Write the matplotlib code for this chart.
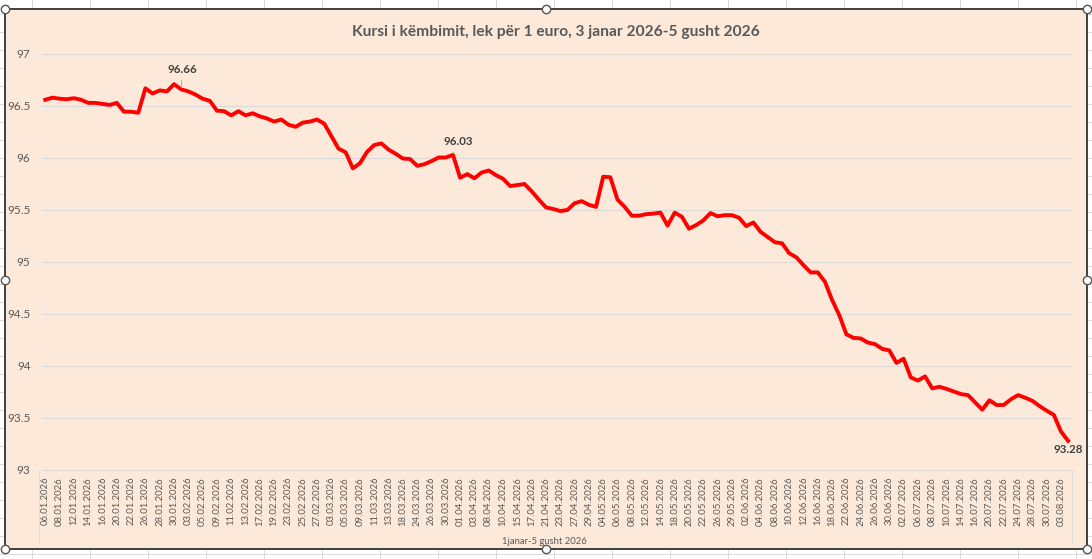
import numpy as np
import matplotlib
matplotlib.use("Agg")
import matplotlib.pyplot as plt
from matplotlib.patches import Rectangle
from matplotlib.lines import Line2D

plt.rcParams['font.family'] = ['Lato', 'DejaVu Sans']

# trading days (every other one is labelled on the axis)
dates = [
    "06.01.2026", "07.01.2026", "08.01.2026", "09.01.2026", "12.01.2026", "13.01.2026",
    "14.01.2026", "15.01.2026", "16.01.2026", "19.01.2026", "20.01.2026", "21.01.2026",
    "22.01.2026", "23.01.2026", "26.01.2026", "27.01.2026", "28.01.2026", "29.01.2026",
    "30.01.2026", "02.02.2026", "03.02.2026", "04.02.2026", "05.02.2026", "06.02.2026",
    "09.02.2026", "10.02.2026", "11.02.2026", "12.02.2026", "13.02.2026", "16.02.2026",
    "17.02.2026", "18.02.2026", "19.02.2026", "20.02.2026", "23.02.2026", "24.02.2026",
    "25.02.2026", "26.02.2026", "27.02.2026", "02.03.2026", "03.03.2026", "04.03.2026",
    "05.03.2026", "06.03.2026", "09.03.2026", "10.03.2026", "11.03.2026", "12.03.2026",
    "13.03.2026", "17.03.2026", "18.03.2026", "19.03.2026", "24.03.2026", "25.03.2026",
    "26.03.2026", "27.03.2026", "30.03.2026", "31.03.2026", "01.04.2026", "02.04.2026",
    "03.04.2026", "07.04.2026", "08.04.2026", "09.04.2026", "10.04.2026", "14.04.2026",
    "15.04.2026", "16.04.2026", "17.04.2026", "20.04.2026", "21.04.2026", "22.04.2026",
    "23.04.2026", "24.04.2026", "27.04.2026", "28.04.2026", "29.04.2026", "30.04.2026",
    "04.05.2026", "05.05.2026", "06.05.2026", "07.05.2026", "08.05.2026", "11.05.2026",
    "12.05.2026", "13.05.2026", "14.05.2026", "15.05.2026", "18.05.2026", "19.05.2026",
    "20.05.2026", "21.05.2026", "22.05.2026", "25.05.2026", "26.05.2026", "27.05.2026",
    "29.05.2026", "01.06.2026", "02.06.2026", "03.06.2026", "04.06.2026", "05.06.2026",
    "08.06.2026", "09.06.2026", "10.06.2026", "11.06.2026", "12.06.2026", "15.06.2026",
    "16.06.2026", "17.06.2026", "18.06.2026", "19.06.2026", "22.06.2026", "23.06.2026",
    "24.06.2026", "25.06.2026", "26.06.2026", "29.06.2026", "30.06.2026", "01.07.2026",
    "02.07.2026", "03.07.2026", "06.07.2026", "07.07.2026", "08.07.2026", "09.07.2026",
    "10.07.2026", "13.07.2026", "14.07.2026", "15.07.2026", "16.07.2026", "17.07.2026",
    "20.07.2026", "21.07.2026", "22.07.2026", "23.07.2026", "24.07.2026", "27.07.2026",
    "28.07.2026", "29.07.2026", "30.07.2026", "31.07.2026", "03.08.2026", "04.08.2026",
]

# lek per 1 euro
rate = [
    96.56, 96.58, 96.57, 96.565, 96.575, 96.56, 96.53, 96.53, 96.52, 96.51,
    96.53, 96.445, 96.445, 96.435, 96.67, 96.62, 96.65, 96.64, 96.71, 96.66,
    96.64, 96.61, 96.57, 96.55, 96.455, 96.45, 96.41, 96.45, 96.41, 96.43,
    96.40, 96.38, 96.35, 96.37, 96.32, 96.30, 96.34, 96.35, 96.37, 96.33,
    96.21, 96.09, 96.055, 95.90, 95.95, 96.06, 96.125, 96.14, 96.08, 96.04,
    95.995, 95.99, 95.925, 95.94, 95.97, 96.005, 96.005, 96.03, 95.81, 95.845,
    95.805, 95.86, 95.88, 95.835, 95.80, 95.73, 95.74, 95.75, 95.68, 95.60,
    95.525, 95.51, 95.49, 95.50, 95.565, 95.585, 95.55, 95.53, 95.82, 95.815,
    95.60, 95.53, 95.445, 95.445, 95.46, 95.465, 95.475, 95.35, 95.475, 95.435,
    95.32, 95.355, 95.40, 95.47, 95.44, 95.45, 95.45, 95.425, 95.345, 95.38,
    95.29, 95.24, 95.19, 95.18, 95.085, 95.045, 94.97, 94.90, 94.90, 94.81,
    94.635, 94.49, 94.305, 94.27, 94.265, 94.225, 94.21, 94.165, 94.15, 94.03,
    94.07, 93.89, 93.86, 93.90, 93.785, 93.80, 93.78, 93.755, 93.73, 93.72,
    93.65, 93.58, 93.67, 93.625, 93.625, 93.68, 93.72, 93.695, 93.665, 93.615,
    93.57, 93.53, 93.37, 93.28,
]

y_ticks = [93, 93.5, 94, 94.5, 95, 95.5, 96, 96.5, 97]
y_tick_labels = ["93", "93.5", "94", "94.5", "95", "95.5", "96", "96.5", "97"]
labelled_points = [19, 57, 143]

W, H = 1092, 559
peach = "#FDE9D9"
grey_text = "#595959"

fig = plt.figure(figsize=(W / 100, H / 100), dpi=100)
fig.patch.set_facecolor("white")

# faint spreadsheet cells around the chart
for x in range(32, W, 58):
    fig.add_artist(Line2D([x / W, x / W], [0, 1], color="#DADADA", lw=0.7, zorder=-3))
for y in range(14, H, 18):
    fig.add_artist(Line2D([0, 1], [1 - y / H, 1 - y / H], color="#DADADA", lw=0.7, zorder=-3))

# chart area
fig.add_artist(Rectangle((5 / W, 10 / H), 1082 / W, 540 / H, transform=fig.transFigure,
                         facecolor=peach, edgecolor="#3F3F3F", lw=1.4, zorder=-1))
hx = [5, 546, 1087]
hy = [9, 280, 549]
for px in hx:
    for py in hy:
        if px == 546 and py == 280:
            continue
        fig.add_artist(Line2D([px / W], [1 - py / H], marker="o", markersize=6,
                              mfc="white", mec="#555555", mew=1.0, zorder=5))

ax = fig.add_axes([41.7 / W, (H - 470) / H, 1030 / W, 416 / H])
ax.set_facecolor(peach)

x = np.arange(len(rate))
ax.plot(x, rate, color="#FF0000", lw=2.8, solid_joinstyle="round", zorder=3)

ax.set_xlim(-0.5, len(rate) - 0.5)
ax.set_ylim(93, 97)
ax.set_yticks(y_ticks)
ax.set_yticklabels(y_tick_labels)
ax.set_xticks(x[::2])
ax.set_xticklabels(dates[::2], rotation=90)
ax.tick_params(axis="y", length=0, pad=8, labelsize=8.5, labelcolor=grey_text)
ax.tick_params(axis="x", length=0, pad=5, labelsize=6.9, labelcolor=grey_text)
ax.grid(axis="y", color="#D9D9D9", lw=0.8)
ax.set_axisbelow(True)
for s in ["top", "right", "left"]:
    ax.spines[s].set_visible(False)
ax.spines["bottom"].set_color("#D9D9D9")
ax.spines["bottom"].set_linewidth(0.8)

# light boundary lines of the category label area
for px in [39.0, 1071.7]:
    fig.add_artist(Line2D([px / W, px / W], [1 - 543 / H, 1 - 470 / H], color="#DDDDDD", lw=0.7))

# data labels
offsets = {19: (0.8, 14.4), 57: (3.6, 9.7), 143: (0, -6)}
for i in labelled_points:
    dx, dy = offsets[i]
    arrow = None
    if i != 143:
        arrow = dict(arrowstyle="-", color="#A6A6A6", lw=0.6, shrinkA=2, shrinkB=1)
    ax.annotate(f"{rate[i]:.2f}", (x[i], rate[i]), xytext=(dx, dy), textcoords="offset points",
                ha="center", va="center", fontsize=8.3, fontweight="bold", color="#404040",
                arrowprops=arrow, zorder=4)

fig.text(556 / W, 1 - 32 / H, "Kursi i këmbimit, lek për 1 euro, 3 janar 2026-5 gusht 2026",
         ha="center", va="center", fontsize=11.2, fontweight="bold", color=grey_text)
fig.text(544 / W, 1 - 541 / H, "1janar-5 gusht 2026", ha="center", va="center",
         fontsize=6.8, color=grey_text)

fig.savefig("out.png", dpi=100, facecolor=fig.get_facecolor())
